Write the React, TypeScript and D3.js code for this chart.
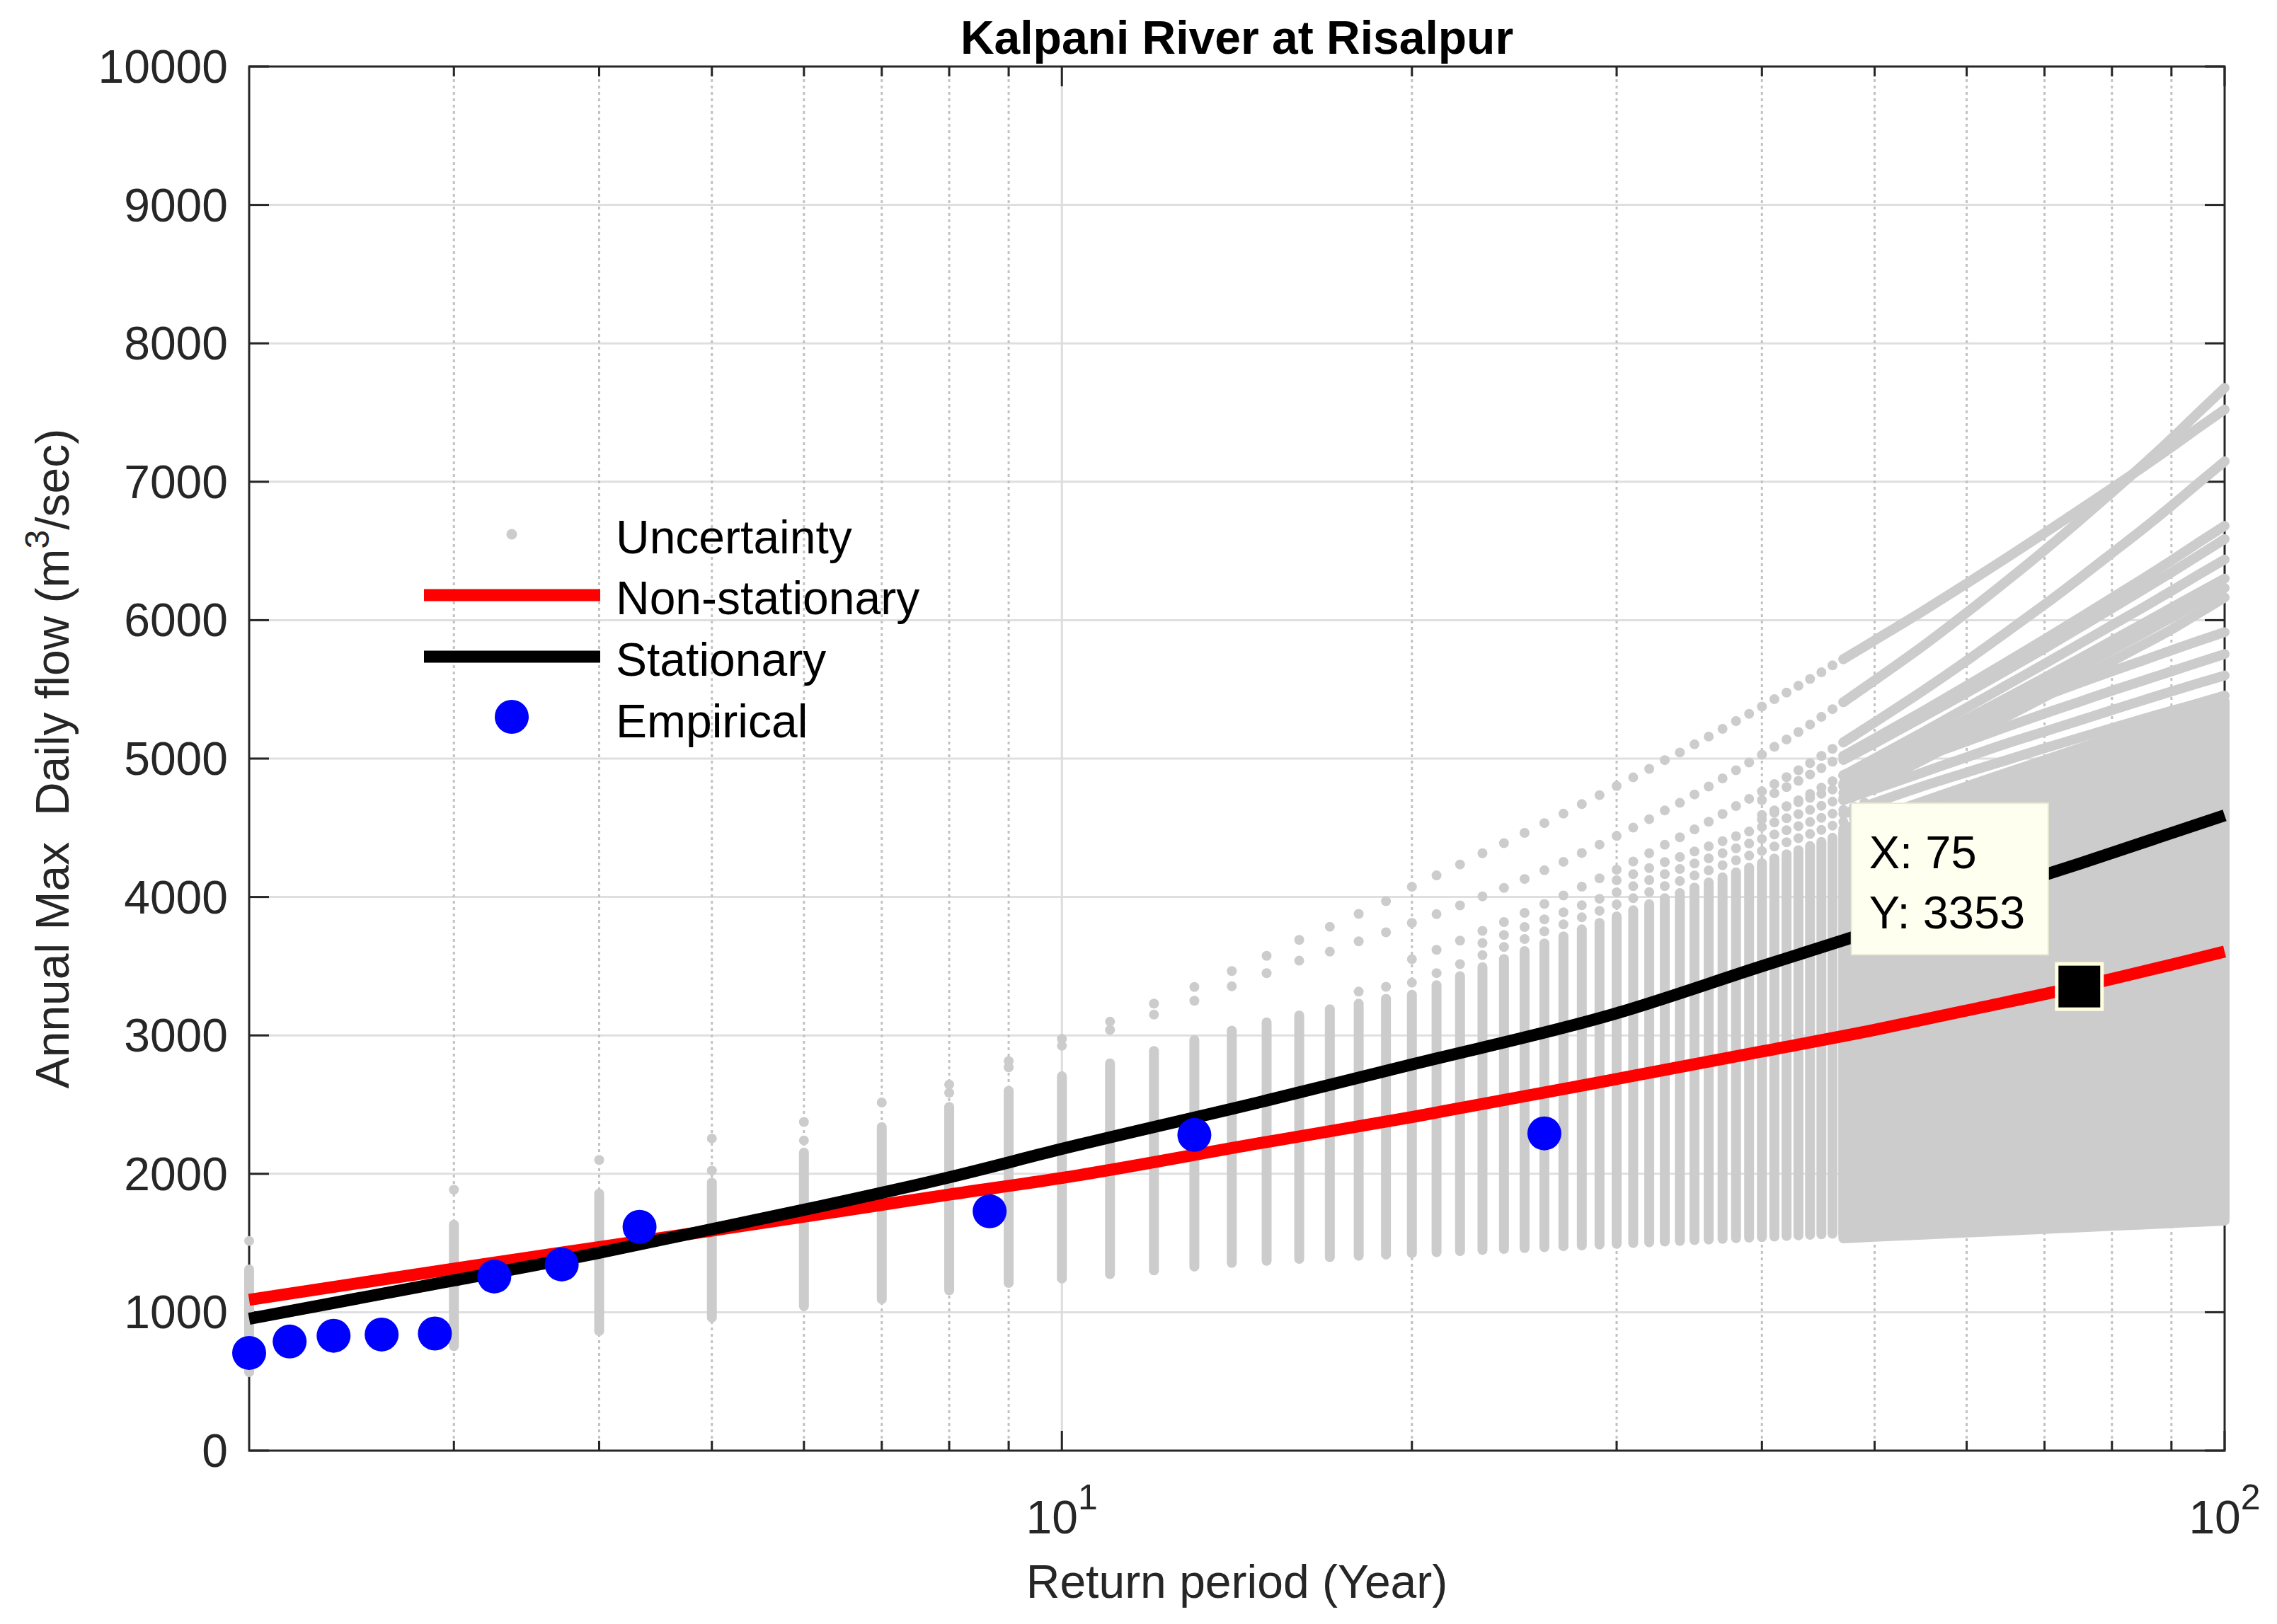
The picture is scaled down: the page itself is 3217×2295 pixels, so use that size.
import React from 'react';
import * as d3 from 'd3';

const W = 3217;
const H = 2295;
const PL = 352, PR = 3143, PT = 94, PB = 2050;
const FONT = "'Liberation Sans', Arial, Helvetica, sans-serif";
const GRAY = '#cccccc';
const DOT = 14;

// Return periods for the individual uncertainty columns
const colT = [2,3,4,5,6,7,8,9,10,11,12,13,14,15,16,17,18,19,20,21,22,23,24,25,26,27,28,29,30,31,32,33,34,35,36,37,38,39,40,41,42,43,44,45,46,47,48,49];
// lower edge of each uncertainty column
const colLow = [532,719,828,925,1008,1058,1122,1176,1207,1240,1266,1294,1320,1336,1350,1362,1372,1381,1390,1398,1406,1414,1421,1428,1434,1441,1447,1453,1458,1464,1469,1475,1479,1485,1489,1494,1499,1503,1507,1511,1515,1519,1523,1527,1531,1534,1538,1541];
// top of the solid part of each column
const colSolid = [1345,1668,1893,1972,2190,2374,2519,2636,2741,2834,2923,3002,3070,3130,3180,3225,3265,3300,3330,3399,3464,3529,3588,3645,3700,3751,3802,3849,3896,3940,3984,4027,4064,4104,4141,4178,4214,4248,4281,4314,4344,4374,4404,4434,4464,4491,4517,4544];
// top of the dense dotted part of each column
const colDense = [1345,1668,1893,2118,2290,2440,2560,2680,2790,2880,2970,3060,3130,3200,3260,3310,3360,3405,3450,3539,3622,3705,3778,3851,3920,3984,4047,4106,4164,4218,4272,4325,4370,4419,4464,4508,4553,4593,4633,4673,4708,4744,4780,4815,4850,4881,4913,4944];

// outlying sample curves (one dot per return period)
const sampleB_T0 = 2;
const sampleB = [1515,1885,2100,2255,2375,2515,2645,2815,2975,3100,3230,3350,3465,3575,3690,3785,3878,3970,4074,4156,4235,4316,4389,4463,4534,4602,4671,4736,4802,4864,4926,4989,5044,5103,5159,5215,5271,5323,5376,5429,5477,5526,5575,5624,5673,5718,5764,5809];
const sampleA_T0 = 8;
const sampleA = [2585,2770,2925,3040,3150,3250,3355,3450,3540,3605,3680,3745,3813,3876,3939,4004,4066,4130,4193,4254,4318,4378,4441,4501,4562,4625,4680,4741,4798,4857,4916,4972,5028,5085,5138,5192,5246,5301,5357,5408,5460,5512];
const sampleC_T0 = 20;
const sampleC = [3550,3618,3685,3755,3819,3885,3950,4011,4075,4135,4197,4256,4316,4377,4431,4489,4544,4600,4657,4709,4763,4816,4866,4916,4967,5019,5070,5117,5165,5213];
const sampleD_T0 = 40;
const sampleD = [4700,4749,4794,4839,4885,4931,4977,5019,5061,5103];
const sampleE_T0 = 40;
const sampleE = [4560,4609,4654,4699,4745,4790,4837,4877,4918,4959];

// long return periods, where the columns merge
const tailT = [47,50,55,60,65,70,75,80,85,90,95,100];
const tailLow = [1534,1545,1561,1576,1589,1602,1613,1624,1634,1644,1653,1662];
const tailSolid = [4491,4570,4690,4799,4899,4989,5073,5150,5221,5289,5354,5413];
const tailDense1 = [4881,4975,5113,5239,5352,5453,5546,5631,5708,5782,5851,5913];
const tailDense2 = [4800,4885,5010,5125,5230,5325,5410,5490,5562,5630,5695,5755];
const tailDense3 = [4700,4780,4900,5010,5110,5195,5275,5350,5420,5485,5545,5600];
const tailDense4 = [4600,4680,4800,4900,4990,5075,5150,5220,5285,5345,5400,5455];
const tailA = [5408,5565,5812,6054,6285,6505,6718,6923,7119,7311,7501,7678];
const tailB = [5718,5854,6065,6265,6453,6629,6796,6954,7104,7249,7391,7522];
const tailC = [5117,5262,5489,5707,5916,6112,6302,6484,6656,6826,6992,7147];
const tailD = [5019,5145,5341,5526,5699,5861,6015,6161,6298,6431,6561,6681];
const tailG = [4990,5110,5300,5475,5640,5795,5945,6085,6218,6345,6468,6586];
const tailE = [4877,5000,5190,5367,5532,5684,5828,5963,6089,6211,6329,6438];
const tailH = [4820,4935,5115,5285,5440,5585,5722,5852,5973,6090,6198,6300];
const tailF = [4752,4870,5050,5219,5375,5520,5656,5784,5903,6018,6130,6232];
const tailI = [4700,4815,4990,5155,5305,5445,5578,5703,5820,5932,6050,6164];

// fitted quantile curves
const lineT = [2,3,4,5,6,8,10,15,20,30,40,50,60,75,100];
const stationary = [953,1230,1430,1600,1740,1975,2180,2530,2790,3160,3500,3760,3980,4240,4590];
const nonStationary = [1090,1315,1470,1590,1690,1850,1970,2230,2410,2685,2884,3040,3180,3353,3606];

// empirical (plotting position) points
const empT = [2.0,2.167,2.364,2.6,2.889,3.25,3.714,4.333,8.667,13,26];
const empQ = [706,788,830,839,846,1258,1345,1617,1729,2281,2292];

const yTicks = [0,1000,2000,3000,4000,5000,6000,7000,8000,9000,10000];
const xMajor = [10,100];
const xMinor = [3,4,5,6,7,8,9,20,30,40,50,60,70,80,90];
const xLabelVals = [10,100];
const xLabelExps = ['1','2'];

const tipT = 75;
const tipQ = 3353;

const legendLabels = ['Uncertainty','Non-stationary','Stationary','Empirical'];

export default function App() {
  const x = d3.scaleLog().domain([2, 100]).range([PL, PR]);
  const y = d3.scaleLinear().domain([0, 10000]).range([PB, PT]);
  const r = DOT / 2;

  const line = d3.line<[number, number]>().x(d => x(d[0])).y(d => y(d[1])).curve(d3.curveMonotoneX);
  const area = d3.area<number>()
    .x((_, i) => x(tailT[i]))
    .y0((_, i) => y(tailLow[i]))
    .y1((_, i) => y(tailSolid[i]))
    .curve(d3.curveMonotoneX);

  const samples: [number, number[]][] = [
    [sampleE_T0, sampleE], [sampleD_T0, sampleD], [sampleC_T0, sampleC], [sampleA_T0, sampleA], [sampleB_T0, sampleB],
  ];
  const tails = [tailDense4, tailDense3, tailDense2, tailDense1, tailI, tailF, tailH, tailE, tailG, tailD, tailC, tailA, tailB];

  const mx = x(tipT), my = y(tipQ);
  const boxW = 278, boxH = 214;
  const boxX = mx - 44 - boxW, boxY = my - 45 - boxH;

  const lx0 = 599, lx1 = 848, lcx = 723, ltx = 870;
  const lrows = [755, 841, 928, 1013];
  const lbase = [782, 868, 955, 1042];

  return (
    <svg width={W} height={H} viewBox={`0 0 ${W} ${H}`} style={{ position: 'absolute', left: 0, top: 0, display: 'block', background: '#fff' }} fontFamily={FONT}>
      <rect x={0} y={0} width={W} height={H} fill="#fff" />
      {/* grid */}
      {yTicks.slice(1, -1).map(v => (
        <line key={'gy' + v} x1={PL} x2={PR} y1={y(v)} y2={y(v)} stroke="#dfdfdf" strokeWidth={3} />
      ))}
      {xMinor.map(v => (
        <line key={'gxm' + v} x1={x(v)} x2={x(v)} y1={PT} y2={PB} stroke="#c2c2c2" strokeWidth={3} strokeDasharray="4 5" />
      ))}
      {xMajor.slice(0, 1).map(v => (
        <line key={'gx' + v} x1={x(v)} x2={x(v)} y1={PT} y2={PB} stroke="#dcdcdc" strokeWidth={3} />
      ))}
      {/* axes box and ticks */}
      <rect x={PL} y={PT} width={PR - PL} height={PB - PT} fill="none" stroke="#262626" strokeWidth={3} />
      {yTicks.map(v => (
        <g key={'ty' + v}>
          <line x1={PL} x2={PL + 28} y1={y(v)} y2={y(v)} stroke="#262626" strokeWidth={3} />
          <line x1={PR} x2={PR - 28} y1={y(v)} y2={y(v)} stroke="#262626" strokeWidth={3} />
        </g>
      ))}
      {xMajor.map(v => (
        <g key={'tx' + v}>
          <line x1={x(v)} x2={x(v)} y1={PB} y2={PB - 28} stroke="#262626" strokeWidth={3} />
          <line x1={x(v)} x2={x(v)} y1={PT} y2={PT + 28} stroke="#262626" strokeWidth={3} />
        </g>
      ))}
      {xMinor.map(v => (
        <g key={'txm' + v}>
          <line x1={x(v)} x2={x(v)} y1={PB} y2={PB - 14} stroke="#262626" strokeWidth={3} />
          <line x1={x(v)} x2={x(v)} y1={PT} y2={PT + 14} stroke="#262626" strokeWidth={3} />
        </g>
      ))}
      {/* tick labels */}
      {yTicks.map(v => (
        <text key={'ly' + v} x={322} y={y(v) + 23} textAnchor="end" fontSize={66} fill="#262626">{v}</text>
      ))}
      {xLabelVals.map((v, i) => (
        <text key={'lx' + v} x={x(v)} y={2167} textAnchor="middle" fontSize={66} fill="#262626">
          10<tspan fontSize={50} dy={-34}>{xLabelExps[i]}</tspan>
        </text>
      ))}
      <text x={(PL + PR) / 2} y={2258} textAnchor="middle" fontSize={66} fill="#262626">Return period (Year)</text>
      <text transform={`translate(97,${(PT + PB) / 2}) rotate(-90)`} textAnchor="middle" fontSize={66} fill="#262626" style={{ whiteSpace: 'pre' }}>
        {'Annual Max  Daily flow (m'}<tspan fontSize={48} dy={-28}>3</tspan><tspan dy={28}>/sec)</tspan>
      </text>
      <text x={(PL + PR) / 2} y={76} textAnchor="middle" fontSize={66} fontWeight="bold" fill="#000">Kalpani River at Risalpur</text>

      {/* uncertainty */}
      <path d={area(tailT) || ''} fill={GRAY} stroke={GRAY} strokeWidth={DOT} strokeLinejoin="round" />
      {colT.map((t, i) => {
        const cx = x(t);
        const yLow = y(colLow[i]) - r;
        const ySolid = y(colSolid[i]) + r;
        const yDense = y(colDense[i]) + r;
        return (
          <g key={'col' + t}>
            <line x1={cx} x2={cx} y1={yLow} y2={Math.min(ySolid, yLow)} stroke={GRAY} strokeWidth={DOT} strokeLinecap="round" />
            {yDense < ySolid - 17 && (
              <line x1={cx} x2={cx} y1={ySolid - 17} y2={yDense} stroke={GRAY} strokeWidth={DOT} strokeLinecap="round" strokeDasharray="0 17" />
            )}
          </g>
        );
      })}
      {tails.map((arr, k) => (
        <path key={'tail' + k} d={line(tailT.map((t, i) => [t, arr[i]] as [number, number])) || ''} fill="none" stroke={GRAY} strokeWidth={DOT} strokeLinecap="round" strokeLinejoin="round" />
      ))}
      {samples.map(([t0, arr], k) => arr.map((v, i) => (
        <circle key={'s' + k + '_' + i} cx={x(t0 + i)} cy={y(v)} r={r} fill={GRAY} />
      )))}

      {/* fitted lines */}
      <path d={line(lineT.map((t, i) => [t, nonStationary[i]] as [number, number])) || ''} fill="none" stroke="#ff0000" strokeWidth={17} />
      <path d={line(lineT.map((t, i) => [t, stationary[i]] as [number, number])) || ''} fill="none" stroke="#000000" strokeWidth={17} />

      {/* empirical */}
      {empT.map((t, i) => (
        <circle key={'e' + i} cx={x(t)} cy={y(empQ[i])} r={24} fill="#0000ff" />
      ))}

      {/* data tip */}
      <rect x={boxX} y={boxY} width={boxW} height={boxH} fill="#fffff0" stroke="#ebebd2" strokeWidth={2} />
      <text x={boxX + 25} y={boxY + 92} fontSize={65} fill="#000">X: {tipT}</text>
      <text x={boxX + 25} y={boxY + 177} fontSize={65} fill="#000">Y: {tipQ}</text>
      <rect x={mx - 32} y={my - 32} width={64} height={64} fill="#000" stroke="#ffffe0" strokeWidth={5} />

      {/* legend */}
      <circle cx={lcx} cy={lrows[0]} r={7.5} fill={GRAY} />
      <line x1={lx0} x2={lx1} y1={lrows[1]} y2={lrows[1]} stroke="#ff0000" strokeWidth={17} />
      <line x1={lx0} x2={lx1} y1={lrows[2]} y2={lrows[2]} stroke="#000" strokeWidth={17} />
      <circle cx={lcx} cy={lrows[3]} r={24} fill="#0000ff" />
      {legendLabels.map((s, i) => (
        <text key={'lg' + i} x={ltx} y={lbase[i]} fontSize={66} fill="#000">{s}</text>
      ))}
    </svg>
  );
}
